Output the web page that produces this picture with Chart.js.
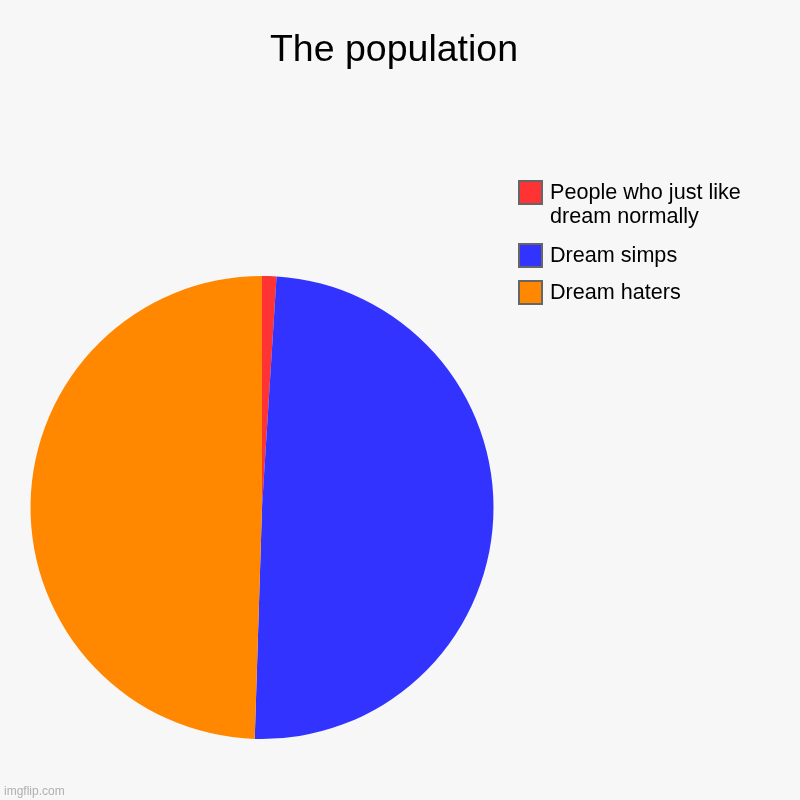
<!DOCTYPE html>
<html>
<head>
<meta charset="utf-8">
<script src="https://cdn.jsdelivr.net/npm/chart.js@4"></script>
<style>
  html, body { margin: 0; padding: 0; background: #f7f7f7; }
  #wrap { width: 800px; height: 800px; position: relative; }
</style>
</head>
<body>
<div id="wrap"><canvas id="pieChart" width="800" height="800"></canvas></div>
<script>
const chartTitle = 'The population';
const categories = ['People who just like dream normally', 'Dream simps', 'Dream haters'];
const values = [1, 49.5, 49.5];
const colors = ['#ff3333', '#3333ff', '#ff8800'];

// title, legend and watermark drawn on the canvas after the pie
const extrasPlugin = {
    id: 'extras',
    afterDraw(chart) {
        const ctx = chart.ctx;
        ctx.save();

        ctx.fillStyle = '#000';
        ctx.font = '37.5px "Liberation Sans", Arial, sans-serif';
        ctx.textAlign = 'center';
        ctx.textBaseline = 'alphabetic';
        ctx.fillText(chartTitle, 394, 61);

        ctx.font = '21.6px "Liberation Sans", Arial, sans-serif';
        ctx.textAlign = 'left';
        let y = 181;
        chart.data.labels.forEach((label, i) => {
            // wrap long labels
            const words = label.split(' ');
            const lines = [];
            let cur = '';
            words.forEach(w => {
                const test = cur ? cur + ' ' + w : w;
                if (ctx.measureText(test).width > 205 && cur) {
                    lines.push(cur);
                    cur = w;
                } else {
                    cur = test;
                }
            });
            lines.push(cur);

            ctx.fillStyle = chart.data.datasets[0].backgroundColor[i];
            ctx.fillRect(519, y, 23, 23);
            ctx.strokeStyle = '#666';
            ctx.lineWidth = 2;
            ctx.strokeRect(519, y, 23, 23);

            ctx.fillStyle = '#000';
            lines.forEach((ln, j) => ctx.fillText(ln, 550, y + 18 + j * 24));
            y += 37 + (lines.length - 1) * 26;
        });

        ctx.fillStyle = '#b0b0b0';
        ctx.font = '12px "Liberation Sans", Arial, sans-serif';
        ctx.fillText('imgflip.com', 4, 795);
        ctx.restore();
    }
};

new Chart(document.getElementById('pieChart'), {
    type: 'pie',
    data: {
        labels: categories,
        datasets: [{
            data: values,
            backgroundColor: colors,
            borderWidth: 0
        }]
    },
    options: {
        responsive: false,
        animation: false,
        layout: { padding: { left: 30, right: 306, top: 276, bottom: 61 } },
        plugins: {
            legend: { display: false },
            title: { display: false },
            tooltip: { enabled: false }
        }
    },
    plugins: [extrasPlugin]
});
</script>
</body>
</html>
